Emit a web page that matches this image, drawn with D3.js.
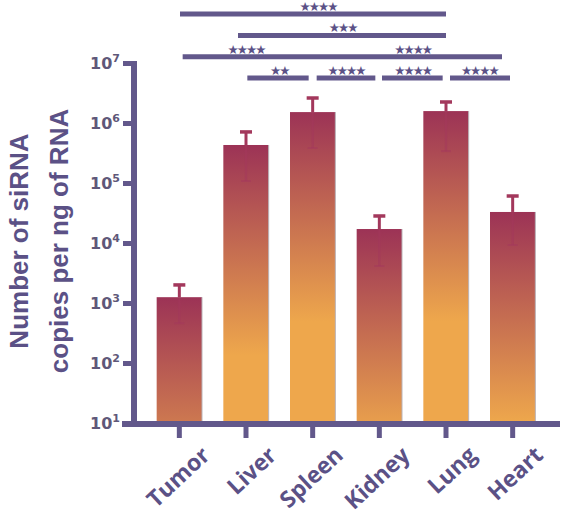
<!DOCTYPE html>
<html>
<head>
<meta charset="utf-8">
<script src="https://cdn.jsdelivr.net/npm/d3@7"></script>
<style>
  body { margin: 0; background: #fff; }
  svg { display: block; }
</style>
</head>
<body>
<svg id="chart" width="568" height="515"></svg>
<script>
const organs = ["Tumor", "Liver", "Spleen", "Kidney", "Lung", "Heart"];
const copies = [1250, 430000, 1520000, 17100, 1580000, 32900];
const errHigh = [2000, 710000, 2610000, 28200, 2240000, 60700];
const errLow = [460, 108000, 383000, 4140, 341000, 9260];
const decades = [10, 100, 1e3, 1e4, 1e5, 1e6, 1e7];

// significance bars: [from index, to index, row (0 = lowest), stars, star positions]
const sigFrom = [0.01, 0.88, 0.05, 1.02, 2.06, 3.04, 4.06];
const sigTo = [4.0, 4.0, 4.84, 1.94, 2.94, 3.95, 4.96];
const sigRow = [3, 2, 1, 0, 0, 0, 0];
const sigStars = ["****", "***", "****", "**", "****", "****", "****"];
const sigAt = [[2.08], [2.45], [1.0, 3.5], [1.5], [2.5], [3.5], [4.5]];

const purple = "#62588b";
const textPurple = "#5b5186";
const errColor = "#a3385c";

var svg = d3.select("#chart");
var axisX = 134;

var x = d3.scaleBand().domain(organs).range([146, 546]).paddingInner(0.32).paddingOuter(0.16);
var y = d3.scaleLog().domain([10, 1e7]).range([423, 63]);

function pos(i) {
  return x(organs[0]) + x.bandwidth() / 2 + i * x.step();
}

var defs = svg.append("defs");

// bars, each with its own gradient running from its top
organs.forEach((o, i) => {
  var top = y(copies[i]);
  var grad = defs.append("linearGradient")
    .attr("id", "grad" + i)
    .attr("gradientUnits", "userSpaceOnUse")
    .attr("x1", 0).attr("x2", 0)
    .attr("y1", top).attr("y2", top + 210);
  grad.append("stop").attr("offset", 0).attr("stop-color", "#9c3356");
  grad.append("stop").attr("offset", 1).attr("stop-color", "#eea74c");

  svg.append("rect")
    .attr("x", x(o))
    .attr("y", top)
    .attr("width", x.bandwidth())
    .attr("height", y(10) - top)
    .attr("fill", "url(#grad" + i + ")");
  svg.append("line")
    .attr("x1", x(o) + x.bandwidth()).attr("x2", x(o) + x.bandwidth())
    .attr("y1", top).attr("y2", y(10))
    .attr("stroke", "#b9b3b8")
    .attr("stroke-width", 1);
});

// error bars
organs.forEach((o, i) => {
  var cx = x(o) + x.bandwidth() / 2;
  svg.append("line")
    .attr("x1", cx).attr("x2", cx)
    .attr("y1", y(copies[i])).attr("y2", y(errLow[i]))
    .attr("stroke", errColor).attr("stroke-opacity", 0.5).attr("stroke-width", 2.5);
  svg.append("line")
    .attr("x1", cx - 5).attr("x2", cx + 5)
    .attr("y1", y(errLow[i])).attr("y2", y(errLow[i]))
    .attr("stroke", errColor).attr("stroke-opacity", 0.5).attr("stroke-width", 2);
  svg.append("line")
    .attr("x1", cx).attr("x2", cx)
    .attr("y1", y(copies[i])).attr("y2", y(errHigh[i]))
    .attr("stroke", errColor).attr("stroke-width", 3);
  svg.append("line")
    .attr("x1", cx - 6).attr("x2", cx + 6)
    .attr("y1", y(errHigh[i])).attr("y2", y(errHigh[i]))
    .attr("stroke", errColor).attr("stroke-width", 3.5);
});

// y axis
var yAxis = svg.append("g")
  .attr("transform", `translate(${axisX},0)`)
  .call(d3.axisLeft(y).tickValues(decades).tickSize(11).tickSizeOuter(0).tickPadding(3).tickFormat(""));
yAxis.select(".domain").attr("stroke", purple).attr("stroke-width", 6)
  .attr("d", `M0,${y(1e7) - 2}V${y(10) + 3}`);
yAxis.selectAll(".tick line").attr("stroke", purple).attr("stroke-width", 5);
yAxis.selectAll(".tick text").each(function(d) {
  var t = d3.select(this)
    .attr("fill", "#5f5879")
    .attr("font-family", "DejaVu Sans, sans-serif")
    .attr("font-weight", "bold")
    .attr("font-size", 16);
  t.append("tspan").attr("font-size", 16).text("10");
  t.append("tspan").attr("dy", -7).attr("font-size", 11).text(Math.round(Math.log10(d)));
});

// x axis
var xAxis = svg.append("g")
  .attr("transform", `translate(0,${y(10) + 1})`)
  .call(d3.axisBottom(x).tickSize(14).tickSizeOuter(0).tickFormat(""));
xAxis.select(".domain").attr("stroke", purple).attr("stroke-width", 6)
  .attr("d", `M${axisX - 12},0H560`);
xAxis.selectAll(".tick line").attr("stroke", purple).attr("stroke-width", 5);

svg.append("g").selectAll("text")
  .data(organs)
  .join("text")
  .attr("transform", d => `translate(${x(d) + x.bandwidth() / 2 + 32},${y(10) + 34}) rotate(-43)`)
  .attr("text-anchor", "end")
  .attr("fill", textPurple)
  .attr("font-family", "Open Sans, sans-serif")
  .attr("font-weight", "bold")
  .attr("font-size", 23)
  .text(d => d);

// y axis title
var title = svg.append("text")
  .attr("transform", "translate(28,241) rotate(-90)")
  .attr("text-anchor", "middle")
  .attr("fill", textPurple)
  .attr("font-family", "Liberation Sans, Arial, sans-serif")
  .attr("font-weight", "bold")
  .attr("font-size", 26);
title.append("tspan").attr("x", 0).attr("y", 0).text("Number of siRNA");
title.append("tspan").attr("x", 0).attr("y", 40).text("copies per ng of RNA");

// significance brackets
var rowY = r => 78 - r * 21.3;
sigFrom.forEach((f, k) => {
  svg.append("line")
    .attr("x1", pos(f)).attr("x2", pos(sigTo[k]))
    .attr("y1", rowY(sigRow[k])).attr("y2", rowY(sigRow[k]))
    .attr("stroke", purple).attr("stroke-width", 5);
  sigAt[k].forEach(a => {
    svg.append("text")
      .attr("x", pos(a))
      .attr("y", rowY(sigRow[k]) - 3)
      .attr("text-anchor", "middle")
      .attr("fill", textPurple)
      .attr("font-family", "DejaVu Sans, sans-serif")
      .attr("font-size", 12.5)
      .attr("letter-spacing", -2)
      .text(sigStars[k].replace(/\*/g, "\u2605"));
  });
});
</script>
</body>
</html>
